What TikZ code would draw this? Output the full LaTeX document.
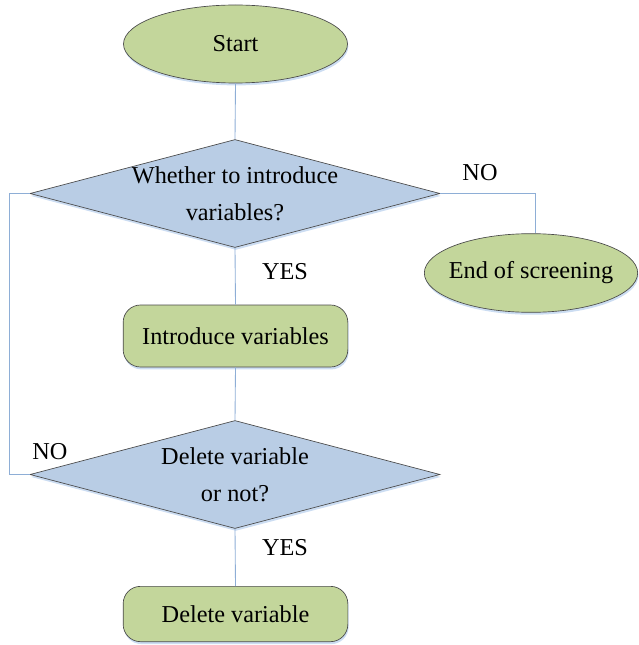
\documentclass[tikz,border=0pt]{standalone}
\usepackage{fontspec}
\setmainfont{Liberation Serif}
\usetikzlibrary{shapes.geometric,shadows}
\definecolor{greenfill}{HTML}{C3D69B}
\definecolor{bluefill}{HTML}{B9CDE5}
\definecolor{linec}{HTML}{8EAED6}
\definecolor{edgec}{HTML}{4A4A4A}
\definecolor{shadowc}{HTML}{C6D9F1}
\tikzset{
  shd/.style={drop shadow={shadow xshift=0.6pt,shadow yshift=-1.8pt,fill=shadowc,opacity=0.9}},
  term/.style={ellipse,draw=edgec,line width=0.5pt,fill=greenfill,shd,inner sep=0pt,
    minimum width=168pt,minimum height=58.5pt},
  proc/.style={rectangle,rounded corners=13pt,draw=edgec,line width=0.5pt,fill=greenfill,shd,
    inner sep=0pt,minimum width=168.5pt},
  dia/.style={diamond,draw=edgec,line width=0.5pt,fill=bluefill,shd,inner sep=0pt,
    minimum width=307.5pt,minimum height=81pt},
  txt/.style={font=\fontsize{18.2}{27.5}\selectfont,align=center,inner sep=0pt},
  conn/.style={draw=linec,line width=0.65pt},
}
\begin{document}
\begin{tikzpicture}[x=0.75pt,y=-0.75pt]
\useasboundingbox (0,0) rectangle (638,645);
\coordinate (s) at (235.5,44);
\coordinate (d1c) at (235,193.5);
\coordinate (p1c) at (235.5,336);
\coordinate (d2c) at (235,474.5);
\coordinate (p2c) at (235.5,614);
\coordinate (ec) at (531,273);
\node[term] (start) at (s) {};
\node[dia] (d1) at (d1c) {};
\node[term,minimum width=160pt,minimum height=59pt] (end) at (ec) {};
\node[proc,minimum height=46.5pt] (intro) at (p1c) {};
\node[dia] (d2) at (d2c) {};
\node[proc,minimum height=41.5pt] (del) at (p2c) {};
\coordinate (lx1) at (9,193.5);
\coordinate (lx2) at (9,474.5);
\coordinate (ex) at (535,193.5);
\draw[conn] (start.south) -- (d1.north);
\draw[conn] (d1.south) -- (intro.north);
\draw[conn] (intro.south) -- (d2.north);
\draw[conn] (d2.south) -- (del.north);
\draw[conn] (d1.east) -- (ex) -- (ex |- end.north);
\draw[conn] (d2.west) -- (lx2) -- (lx1) -- (d1.west);
\node[txt] (tstart) at (start) {Start};
\node[txt] (td1) at (d1) {Whether to introduce\\variables?};
\node[txt] (tend) at (end) {End of screening};
\node[txt] (tintro) at (intro) {Introduce variables};
\node[txt] (td2) at (d2) {Delete variable\\or not?};
\node[txt] (tdel) at (del) {Delete variable};
\node[txt] (yes1) at (285,272) {YES};
\node[txt] (no1) at (480,173) {NO};
\node[txt] (no2) at (50,452) {NO};
\node[txt] (yes2) at (285,548) {YES};
\end{tikzpicture}
\end{document}
